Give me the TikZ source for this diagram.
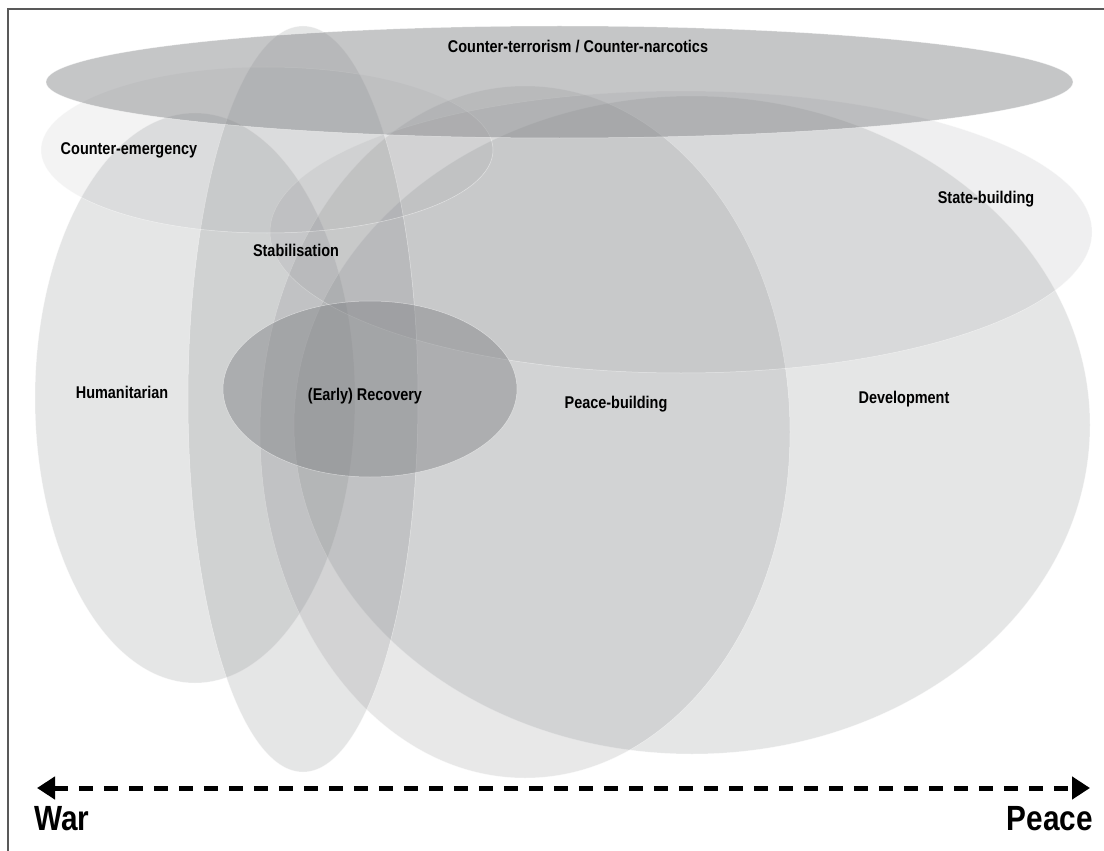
\documentclass[tikz,border=0pt]{standalone}
\usepackage{fontspec}
\setmainfont{Liberation Sans}[FakeStretch=0.85]
\usetikzlibrary{arrows.meta}
\definecolor{basegray}{HTML}{808285}
\tikzset{
  zone/.style={fill=basegray, fill opacity=#1, draw=white, draw opacity=0.5, line width=0.5pt},
  lbl/.style={inner sep=0pt, anchor=base, font=\fontsize{17}{19}\selectfont\bfseries, text=black},
  bigl/.style={inner sep=0pt, font=\fontsize{35}{40}\selectfont\bfseries, text=black},
  scaleline/.style={line width=5pt, dash pattern=on 14pt off 11pt,
     {Triangle[length=18pt,width=22pt]}-{Triangle[length=18pt,width=22pt]}}
}
\begin{document}
\begin{tikzpicture}[x=1pt,y=-1pt]
\useasboundingbox (0,0) rectangle (1104,851);
\fill[white] (0,0) rectangle (1104,851);
\begin{scope}
\clip (0,0) rectangle (1104,851);
\draw[line width=1.8pt, draw=black!65] (8,9) rectangle (1112,860);
\end{scope}
% zones
\path[zone=0.20] (195,398) ellipse [x radius=160, y radius=285]; % humanitarian
\path[zone=0.20] (692,425) ellipse [x radius=398, y radius=329]; % development
\path[zone=0.18] (525,432) ellipse [x radius=265, y radius=346]; % peace-building
\path[zone=0.12] (681,232) ellipse [x radius=411, y radius=141]; % state-building
\path[zone=0.20] (303,399) ellipse [x radius=115, y radius=373]; % stabilisation
\path[zone=0.09] (267,150) ellipse [x radius=226, y radius=83]; % counter-emergency
\path[zone=0.45] (370,389) ellipse [x radius=147, y radius=88]; % recovery
\path[zone=0.45] (559.5,82) ellipse [x radius=513.5, y radius=56]; % counter-terrorism
% labels
\node[lbl] (ct) at (578,53) {Counter-terrorism / Counter-narcotics};
\node[lbl] (ce) at (129,154) {Counter-emergency};
\node[lbl] (st) at (296,256) {Stabilisation};
\node[lbl] (sb) at (986,203) {State-building};
\node[lbl] (hu) at (122,398) {Humanitarian};
\node[lbl] (er) at (365,400) {(Early) Recovery};
\node[lbl] (pb) at (616,408) {Peace-building};
\node[lbl] (dv) at (904,403) {Development};
% scale
\coordinate (warend) at (37,788);
\coordinate (peaceend) at (1090,788);
\draw[scaleline] (warend) -- (peaceend);
\node[bigl, anchor=base west] (war) at (34,830) {War};
\node[bigl, anchor=base east] (peace) at (1093,830) {Peace};
\end{tikzpicture}
\end{document}
